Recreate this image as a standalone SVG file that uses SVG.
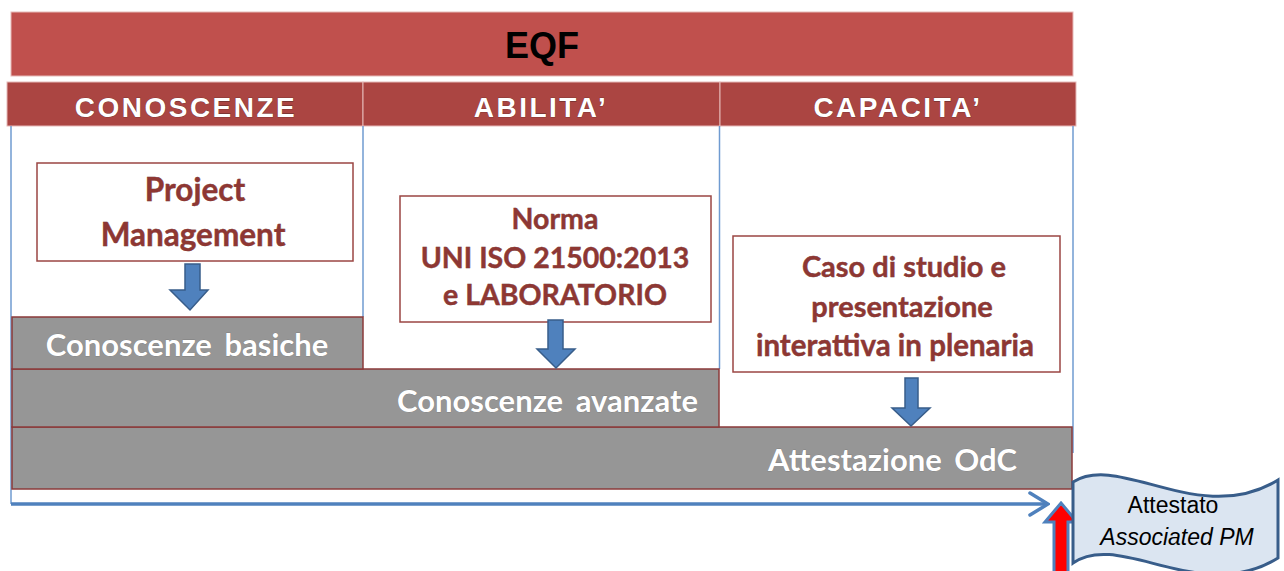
<svg xmlns="http://www.w3.org/2000/svg" width="1284" height="571" viewBox="0 0 1284 571">
<defs>
<style>
.hdr{fill:#ab4542;stroke:#e6b9b8;stroke-width:1}
.htxt{font-family:"Liberation Sans",Arial,sans-serif;font-weight:bold;font-size:28px;fill:#fff;text-anchor:middle;letter-spacing:2.5px;stroke:#5a2a28;stroke-width:0.6;paint-order:stroke}
.box{fill:#fff;stroke:#9b4643;stroke-width:1.5}
.btxt{font-family:Lato,"Open Sans",sans-serif;font-weight:bold;font-size:28.5px;fill:#8e3733;text-anchor:middle;stroke:#5a2422;stroke-width:0.4;paint-order:stroke}
.bar{fill:#969696;stroke:#8b3a3a;stroke-width:1.5}
.bartxt{font-family:Lato,"Open Sans",sans-serif;font-weight:bold;font-size:31px;fill:#fff;word-spacing:5px;stroke:#6a6a6a;stroke-width:0.4;paint-order:stroke}
.col{stroke:#6f9bd1;stroke-width:1.5;fill:none}
.darr{fill:#4f81bd;stroke:#385d8a;stroke-width:1.5}
</style>
<marker id="chev" viewBox="0 0 22 26" refX="20" refY="13" markerWidth="22" markerHeight="26" markerUnits="userSpaceOnUse" orient="auto">
<path d="M2,2 L20,13 L2,24" fill="none" stroke="#4f81bd" stroke-width="3.5" stroke-linecap="round"/>
</marker>
</defs>

<g id="eqf">
<rect x="11" y="12" width="1062" height="64" fill="#c0504d" stroke="#e6b9b8" stroke-width="1"/>
<text x="542" y="58" font-family="'Liberation Sans',Arial,sans-serif" font-weight="bold" font-size="36" fill="#000" text-anchor="middle">EQF</text>
</g>

<g id="hdr-conoscenze">
<rect class="hdr" x="7" y="82" width="356" height="44"/>
<text class="htxt" x="186" y="117">CONOSCENZE</text>
</g>
<g id="hdr-abilita">
<rect class="hdr" x="363" y="82" width="357" height="44"/>
<text class="htxt" x="541" y="117">ABILITA’</text>
</g>
<g id="hdr-capacita">
<rect class="hdr" x="720" y="82" width="356" height="44"/>
<text class="htxt" x="898" y="117">CAPACITA’</text>
</g>

<g id="columns">
<line class="col" x1="11" y1="126" x2="11" y2="504"/>
<line class="col" x1="363" y1="126" x2="363" y2="317"/>
<line class="col" x1="719.5" y1="126" x2="719.5" y2="369"/>
<line class="col" x1="1073" y1="126" x2="1073" y2="453"/>
</g>

<g id="box-pm">
<rect class="box" x="37" y="163" width="316" height="98"/>
<text class="btxt" x="195" y="201" style="font-size:31.5px">Project</text>
<text class="btxt" x="193" y="246" style="font-size:31.5px">Management</text>
</g>

<g id="box-norma">
<rect class="box" x="400" y="196" width="311" height="126"/>
<text class="btxt" x="555" y="229">Norma</text>
<text class="btxt" x="555" y="268">UNI ISO 21500:2013</text>
<text class="btxt" x="555" y="305">e LABORATORIO</text>
</g>

<g id="box-caso">
<rect class="box" x="733" y="236" width="327" height="136"/>
<text class="btxt" x="904" y="277" style="font-size:29px">Caso di studio e</text>
<text class="btxt" x="902" y="317" style="font-size:29px">presentazione</text>
<text class="btxt" x="895" y="356" style="font-size:29.5px">interattiva in plenaria</text>
</g>

<g id="bar-attestazione">
<rect class="bar" x="12" y="427" width="1060" height="62"/>
<text class="bartxt" x="1017" y="471" text-anchor="end">Attestazione OdC</text>
</g>
<g id="bar-avanzate">
<rect class="bar" x="12" y="369" width="707" height="58"/>
<text class="bartxt" x="698" y="412" text-anchor="end">Conoscenze avanzate</text>
</g>
<g id="bar-basiche">
<rect class="bar" x="12" y="317" width="351" height="52"/>
<text class="bartxt" x="187" y="356" text-anchor="middle">Conoscenze basiche</text>
</g>

<g id="connectors">
<path class="darr" d="M185,264 H200 V290 H208 L190,310 L170,290 H185 Z"/>
<path class="darr" d="M548,320 H563 V349 H575 L556,368 L537,349 H548 Z"/>
<path class="darr" d="M905,378 H918 V408 H930 L911,426 L892,408 H905 Z"/>
<line x1="11" y1="504" x2="1048" y2="504" stroke="#4f81bd" stroke-width="3.5" marker-end="url(#chev)"/>
<path d="M1061,503 L1077,522 H1068 V575 H1054 V522 H1045 Z" fill="#ff0000" stroke="#4f81bd" stroke-width="3"/>
</g>

<g id="attestato">
<path d="M1073,482 C1120,452 1200,528 1278,480 L1278,558 C1200,606 1120,530 1073,563 Z" fill="#dbe5f1" stroke="#385d8a" stroke-width="3"/>
<text x="1173" y="513" font-family="'Liberation Sans',Arial,sans-serif" font-size="23" fill="#000" text-anchor="middle">Attestato</text>
<text x="1177" y="545" font-family="'Liberation Sans',Arial,sans-serif" font-size="23" font-style="italic" fill="#000" text-anchor="middle">Associated PM</text>
</g>
</svg>
